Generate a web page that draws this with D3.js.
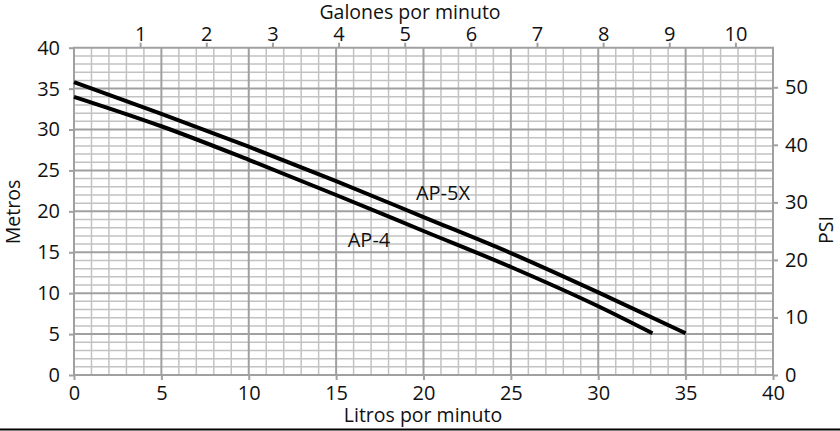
<!DOCTYPE html>
<html>
<head>
<meta charset="utf-8">
<script src="https://cdn.jsdelivr.net/npm/d3@7/dist/d3.min.js"></script>
<style>
html,body{margin:0;padding:0;background:#fff;}
svg{display:block;}
text{font-family:"Open Sans","Noto Sans",sans-serif;fill:#111;}
</style>
</head>
<body>
<svg id="chart" width="840" height="431"></svg>
<script>
// ---- data ----
const litros = [0, 5, 10, 15, 20, 25, 30, 35];
const ap5x = [35.8, 31.9, 27.9, 23.7, 19.3, 14.9, 10.1, 5.1];
const litrosAp4 = [0, 5, 10, 15, 20, 25, 30, 33.1];
const ap4 = [34.0, 30.4, 26.3, 22.0, 17.6, 13.2, 8.4, 5.1];
const xTicks = [0, 5, 10, 15, 20, 25, 30, 35, 40];
const yTicks = [0, 5, 10, 15, 20, 25, 30, 35, 40];
const galTicks = [1, 2, 3, 4, 5, 6, 7, 8, 9, 10];
const psiTicks = [0, 10, 20, 30, 40, 50];
const LITERS_PER_GAL = 3.785;
const PSI_PER_M = 1.422;

const svg = d3.select("#chart");
const x = d3.scaleLinear().domain([0, 40]).range([74, 773]);
const y = d3.scaleLinear().domain([0, 40]).range([375, 47.7]);
const xg = d3.scaleLinear().domain([0, 40 / LITERS_PER_GAL]).range([74, 773]);
const yp = d3.scaleLinear().domain([0, 40 * PSI_PER_M]).range([375, 47.7]);

const fs = "20px";
const fsTitle = "19.5px";
const major = "#a0a0a0", minor = "#c2c2c2";

// grid
const g = svg.append("g");
const minorX = d3.range(0, 41, 1).filter(v => v % 5 !== 0);
const minorY = d3.range(0, 41, 1).filter(v => v % 5 !== 0);
g.selectAll(".mx").data(minorX).join("line")
  .attr("x1", d => x(d)).attr("x2", d => x(d)).attr("y1", y(0)).attr("y2", y(40))
  .attr("stroke", minor).attr("stroke-width", 1.5);
g.selectAll(".my").data(minorY).join("line")
  .attr("y1", d => y(d)).attr("y2", d => y(d)).attr("x1", x(0)).attr("x2", x(40))
  .attr("stroke", minor).attr("stroke-width", 1.5);
g.selectAll(".Mx").data(xTicks).join("line")
  .attr("x1", d => x(d)).attr("x2", d => x(d)).attr("y1", y(0)).attr("y2", y(40))
  .attr("stroke", major).attr("stroke-width", 2);
g.selectAll(".My").data(yTicks).join("line")
  .attr("y1", d => y(d)).attr("y2", d => y(d)).attr("x1", x(0) - 1).attr("x2", x(40) + 1)
  .attr("stroke", major).attr("stroke-width", 2);

function styleAxis(sel) {
  sel.select(".domain").remove();
  sel.selectAll(".tick line").attr("stroke", major).attr("stroke-width", 2);
  sel.selectAll(".tick text").style("font-size", fs).attr("fill", "#111");
}

svg.append("g").attr("transform", `translate(0,${y(0)})`)
  .call(d3.axisBottom(x).tickValues(xTicks).tickSize(5).tickPadding(6))
  .call(styleAxis);
svg.append("g").attr("transform", `translate(${x(0)},0)`)
  .call(d3.axisLeft(y).tickValues(yTicks).tickSize(5).tickPadding(9))
  .call(styleAxis);
svg.append("g").attr("transform", `translate(0,${y(40)})`)
  .call(d3.axisTop(xg).tickValues(galTicks).tickSize(5).tickPadding(2))
  .call(styleAxis);
svg.append("g").attr("transform", `translate(${x(40)},0)`)
  .call(d3.axisRight(yp).tickValues(psiTicks).tickSize(5).tickPadding(7))
  .call(styleAxis);

// curves
const line = d3.line().x(d => x(d[0])).y(d => y(d[1])).curve(d3.curveMonotoneX);
svg.append("path").datum(litros.map((l, i) => [l, ap5x[i]]))
  .attr("d", line).attr("fill", "none").attr("stroke", "#000").attr("stroke-width", 4);
svg.append("path").datum(litrosAp4.map((l, i) => [l, ap4[i]]))
  .attr("d", line).attr("fill", "none").attr("stroke", "#000").attr("stroke-width", 4);

// labels
svg.append("text").attr("x", 443).attr("y", 200).attr("text-anchor", "middle")
  .style("font-size", fs).text("AP-5X");
svg.append("text").attr("x", 369).attr("y", 247).attr("text-anchor", "middle")
  .style("font-size", fs).text("AP-4");

svg.append("text").attr("x", 423).attr("y", 422).attr("text-anchor", "middle")
  .style("font-size", fsTitle).text("Litros por minuto");
svg.append("text").attr("x", 410).attr("y", 19).attr("text-anchor", "middle")
  .style("font-size", fsTitle).text("Galones por minuto");
svg.append("text").attr("transform", `translate(20,212) rotate(-90)`).attr("text-anchor", "middle")
  .style("font-size", fsTitle).text("Metros");
svg.append("text").attr("transform", `translate(833,230) rotate(-90)`).attr("text-anchor", "middle")
  .style("font-size", fsTitle).text("PSI");

// bottom rule
svg.append("line").attr("x1", 0).attr("x2", 840).attr("y1", 429.5).attr("y2", 429.5)
  .attr("stroke", "#000").attr("stroke-width", 2);
</script>
</body>
</html>
